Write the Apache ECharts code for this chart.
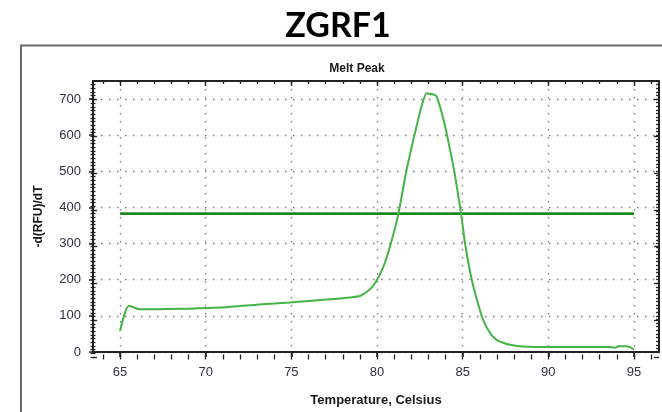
<!DOCTYPE html>
<html>
<head>
<meta charset="utf-8">
<script src="https://cdn.jsdelivr.net/npm/echarts@6/dist/echarts.min.js"></script>
<style>
  html, body { margin: 0; padding: 0; background: #ffffff; }
  #chart { width: 662px; height: 412px; }
</style>
</head>
<body>
<div id="chart"></div>
<script>
// Melt peak curve for ZGRF1: -d(RFU)/dT against temperature
const chartTitle = 'ZGRF1';
const plotTitle = 'Melt Peak';
const xName = 'Temperature, Celsius';
const yName = '-d(RFU)/dT';

const temps = [65.0, 65.52, 66.07, 67.0, 68.0, 69.0, 70.06, 71.2, 72.0, 72.97, 74.0, 74.9,
  76.0, 77.06, 78.0, 78.4, 79.0, 79.6, 80.0, 80.37, 80.66, 80.95, 81.25, 81.72, 81.95,
  82.2, 82.6, 82.9, 83.1, 83.45, 83.9, 84.26, 84.5, 84.9, 85.14, 85.53, 86.1, 86.3,
  86.5, 86.7, 87.0, 87.4, 87.77, 88.54, 89.5, 91.0, 93.5, 93.9, 94.1, 94.5, 94.8, 95.0];
const dRFU = [58, 128, 119, 118, 119, 120, 122, 124, 127, 131, 134, 137,
  141, 145, 149, 151, 155, 174, 200, 236, 276, 325, 383, 503, 552,
  603, 680, 716, 714, 709, 640, 560, 503, 385, 300, 200, 101, 78,
  60, 46, 33, 25, 20, 15, 14, 14, 14, 12, 16, 16, 13, 6];

// Threshold line
const thresholdTemps = [65, 95];
const thresholdValues = [383, 383];

// Axis ticks and labels
const xRange = [63.42, 96.46];
const yRange = [0, 750];
const xMajorTicks = [65, 70, 75, 80, 85, 90, 95];
const xMinorTicks = [64, 65, 66, 67, 68, 69, 70, 71, 72, 73, 74, 75, 76, 77, 78, 79, 80,
  81, 82, 83, 84, 85, 86, 87, 88, 89, 90, 91, 92, 93, 94, 95, 96];
const yMajorTicks = [0, 100, 200, 300, 400, 500, 600, 700];
const yMinorTicks = [0, 10, 20, 30, 40, 50, 60, 70, 80, 90, 100, 110, 120, 130, 140, 150,
  160, 170, 180, 190, 200, 210, 220, 230, 240, 250, 260, 270, 280, 290, 300, 310, 320,
  330, 340, 350, 360, 370, 380, 390, 400, 410, 420, 430, 440, 450, 460, 470, 480, 490,
  500, 510, 520, 530, 540, 550, 560, 570, 580, 590, 600, 610, 620, 630, 640, 650, 660,
  670, 680, 690, 700, 710, 720, 730, 740];

const axisColor = '#222222';
const labelColor = '#2c3145';
const dotted = { type: [1.5, 6.5], color: '#7a7a7a', width: 1.3 };

const gridBox = { left: 93, top: 81, right: 3, bottom: 55 };

// Tick-only axis helper (used for the layered major/minor tick marks)
function tickAxis(kind, gridIndex, position, values, inside, length, showLine) {
  const range = kind === 'x' ? xRange : yRange;
  return {
    type: 'value', gridIndex, position,
    min: range[0], max: range[1],
    axisLine: { show: !!showLine, onZero: false, lineStyle: { color: axisColor, width: 2 } },
    axisTick: { show: true, customValues: values, inside, length, lineStyle: { color: axisColor, width: 1.3 } },
    axisLabel: { show: false },
    splitLine: { show: false }
  };
}

const chart = echarts.init(document.getElementById('chart'), null, { renderer: 'canvas' });

const option = {
  backgroundColor: '#ffffff',
  animation: false,
  title: [
    { text: chartTitle, left: 333, top: 4, textAlign: 'center',
      textStyle: { fontFamily: 'Lato', fontWeight: 'bold', fontSize: 34, color: '#000000' } },
    { text: plotTitle, left: 352, top: 58, textAlign: 'center',
      textStyle: { fontFamily: 'Liberation Sans', fontWeight: 'bold', fontSize: 12, color: '#1a1a1a' } }
  ],
  graphic: [
    { type: 'rect', z: -1, silent: true,
      shape: { x: 21, y: 45.5, width: 700, height: 420 },
      style: { fill: 'none', stroke: '#6b6b6b', lineWidth: 2 } }
  ],
  grid: [
    Object.assign({}, gridBox),
    Object.assign({}, gridBox),
    Object.assign({}, gridBox),
    Object.assign({}, gridBox)
  ],
  xAxis: [
    {
      type: 'value', gridIndex: 0, position: 'bottom',
      min: xRange[0], max: xRange[1],
      name: xName, nameLocation: 'middle', nameGap: 42,
      nameTextStyle: { fontFamily: 'Liberation Sans', fontWeight: 'bold', fontSize: 13, color: '#1a1a1a' },
      axisLine: { show: true, onZero: false, lineStyle: { color: axisColor, width: 2 } },
      axisTick: { show: true, customValues: xMajorTicks, inside: false, length: 5, lineStyle: { color: axisColor, width: 1.5 } },
      axisLabel: { show: true, customValues: xMajorTicks, margin: 14, color: labelColor,
        fontFamily: 'Liberation Sans', fontSize: 13 },
      splitLine: { show: true, lineStyle: dotted }
    },
    tickAxis('x', 0, 'top', xMinorTicks, true, 3, true),
    tickAxis('x', 1, 'bottom', xMajorTicks, true, 4, false),
    tickAxis('x', 2, 'bottom', xMinorTicks, false, 2.5, false),
    tickAxis('x', 3, 'bottom', xMinorTicks, true, 2.5, false),
    tickAxis('x', 1, 'top', xMajorTicks, true, 5, false)
  ],
  yAxis: [
    {
      type: 'value', gridIndex: 0, position: 'left',
      min: yRange[0], max: yRange[1],
      name: yName, nameLocation: 'middle', nameGap: 48, nameRotate: 90,
      nameTextStyle: { fontFamily: 'Liberation Sans', fontWeight: 'bold', fontSize: 12, color: '#1a1a1a' },
      axisLine: { show: true, onZero: false, lineStyle: { color: axisColor, width: 2 } },
      axisTick: { show: true, customValues: yMajorTicks, inside: false, length: 4, lineStyle: { color: axisColor, width: 1.5 } },
      axisLabel: { show: true, customValues: yMajorTicks, margin: 12, color: labelColor,
        fontFamily: 'Liberation Sans', fontSize: 13 },
      splitLine: { show: true, lineStyle: dotted }
    },
    tickAxis('y', 0, 'right', yMinorTicks, true, 3, true),
    tickAxis('y', 1, 'left', yMajorTicks, true, 4, false),
    tickAxis('y', 2, 'left', yMinorTicks, false, 2.5, false),
    tickAxis('y', 3, 'left', yMinorTicks, true, 2.5, false),
    tickAxis('y', 1, 'right', yMajorTicks, true, 5, false)
  ],
  series: [
    {
      name: 'Threshold', type: 'line', xAxisIndex: 0, yAxisIndex: 0,
      data: thresholdTemps.map((t, i) => [t, thresholdValues[i]]),
      symbol: 'none', lineStyle: { color: '#1b8a1b', width: 2.6 }, z: 3
    },
    {
      name: 'Melt Peak', type: 'line', xAxisIndex: 0, yAxisIndex: 0,
      data: temps.map((t, i) => [t, dRFU[i]]),
      symbol: 'none', smooth: 0.25,
      lineStyle: { color: '#45b445', width: 2 }, z: 4
    }
  ]
};

chart.setOption(option);
</script>
</body>
</html>
